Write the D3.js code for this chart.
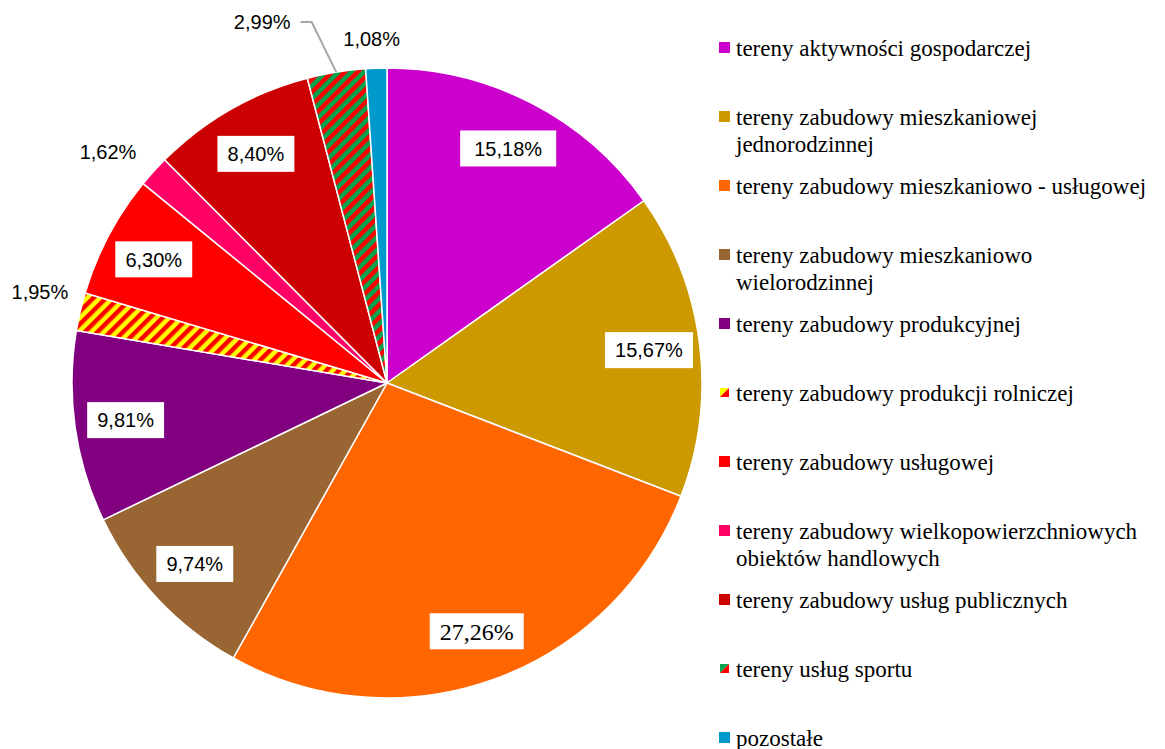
<!DOCTYPE html>
<html><head><meta charset="utf-8">
<script src="https://cdn.jsdelivr.net/npm/d3@7"></script>
<style>
html,body{margin:0;padding:0;background:#fff;}
svg{display:block;}
svg text.lg, svg text.serif{font-family:"Liberation Serif","Times New Roman",serif !important;}
svg text.sans{font-family:"Liberation Sans",Arial,sans-serif;}
</style>
</head><body>
<svg id="chart" width="1165" height="749"></svg>
<script>
// ---- data ----
const categories = [
  ["tereny aktywności gospodarczej"],
  ["tereny zabudowy mieszkaniowej", "jednorodzinnej"],
  ["tereny zabudowy mieszkaniowo - usługowej"],
  ["tereny zabudowy mieszkaniowo", "wielorodzinnej"],
  ["tereny zabudowy produkcyjnej"],
  ["tereny zabudowy produkcji rolniczej"],
  ["tereny zabudowy usługowej"],
  ["tereny zabudowy wielkopowierzchniowych", "obiektów handlowych"],
  ["tereny zabudowy usług publicznych"],
  ["tereny usług sportu"],
  ["pozostałe"]
];
const values = [15.18, 15.67, 27.26, 9.74, 9.81, 1.95, 6.30, 1.62, 8.40, 2.99, 1.08];
const labels = ["15,18%", "15,67%", "27,26%", "9,74%", "9,81%", "1,95%", "6,30%", "1,62%", "8,40%", "2,99%", "1,08%"];

// ---- styling / layout ----
const fills = ["#CC00CC", "#CC9900", "#FF6600", "#996633", "#800080", "url(#pRol)", "#FF0000", "#FF0066", "#CC0000", "url(#pSport)", "#0099CC"];
const labelMode = ["in","in","in","in","in","out","in","out","in","out","out"];
const outRadius = [0,0,0,0,0,359,0,362,0,382,345];
const outAngleOff = [0,0,0,0,0,1.7,0,-2.6,0,-9.8,-0.6];

const svg = d3.select("#chart");
const cx = 387, cy = 383, R = 315;

const defs = svg.append("defs");
function stripes(id, bg, fg) {
  const p = defs.append("pattern").attr("id", id).attr("patternUnits", "userSpaceOnUse")
    .attr("width", 9).attr("height", 9).attr("patternTransform", "rotate(45)");
  p.append("rect").attr("width", 9).attr("height", 9).attr("fill", bg);
  p.append("rect").attr("width", 4.5).attr("height", 9).attr("fill", fg);
}
stripes("pRol", "#FFFF00", "#FF0000");
stripes("pSport", "#00A550", "#FF0000");

const pie = d3.pie().sort(null).value(d => d);
const arcs = pie(values);
const arc = d3.arc().innerRadius(0).outerRadius(R);

const g = svg.append("g").attr("transform", `translate(${cx},${cy})`);
g.selectAll("path.slice").data(arcs).enter().append("path")
  .attr("class", "slice")
  .attr("d", arc)
  .attr("fill", (d, i) => fills[i])
  .attr("stroke", "#fff").attr("stroke-width", 1.5).attr("stroke-linejoin", "round");

const polar = (a, r) => [Math.sin(a) * r, -Math.cos(a) * r];

arcs.forEach((d, i) => {
  const mid = (d.startAngle + d.endAngle) / 2;
  if (labelMode[i] === "in") {
    const [px, py] = polar(mid, 264);
    const x = cx + px, y = cy + py;
    const serif = i === 2;
    const rect = svg.append("rect").attr("fill", "#fff");
    const t = svg.append("text").attr("x", x).attr("y", y).attr("dy", "0.36em")
      .attr("text-anchor", "middle").attr("class", serif ? "serif" : "sans")
      .style("font-size", (serif ? 24 : 20) + "px").attr("fill", "#000").text(labels[i]);
    const bb = t.node().getBBox();
    const padX = i === 0 ? 14 : 10;
    rect.attr("x", x - bb.width / 2 - padX).attr("y", y - 18)
      .attr("width", bb.width + 2 * padX).attr("height", 36);
  } else {
    const a = mid + outAngleOff[i] * Math.PI / 180;
    const [px, py] = polar(a, outRadius[i]);
    const x = cx + px, y = cy + py;
    const t = svg.append("text").attr("x", x).attr("y", y).attr("dy", "0.36em")
      .attr("text-anchor", "middle").attr("class", "sans")
      .style("font-size", "20px").attr("fill", "#000").text(labels[i]);
    if (i === 9) {
      const bb = t.node().getBBox();
      const [ex, ey] = polar(mid, R);
      const x0 = x + bb.width / 2 + 10;
      svg.append("polyline")
        .attr("points", [[x0, y], [x0 + 11, y], [cx + ex, cy + ey]].map(p => p.join(",")).join(" "))
        .attr("fill", "none").attr("stroke", "#A6A6A6").attr("stroke-width", 2);
    }
  }
});

// legend
const legX = 719, legY0 = 48, legStep = 69, lineH = 27;
categories.forEach((lines, i) => {
  const y = legY0 + i * legStep;
  if (i === 5 || i === 9) {
    const c1 = i === 5 ? "#FFFF00" : "#00A550";
    svg.append("polygon").attr("points", `${legX+1},${y-5} ${legX+10},${y-5} ${legX+1},${y+4}`).attr("fill", c1);
    svg.append("polygon").attr("points", `${legX+10},${y-5} ${legX+10},${y+4} ${legX+1},${y+4}`).attr("fill", "#FF0000");
  } else {
    svg.append("rect").attr("x", legX).attr("y", y - 6).attr("width", 11).attr("height", 11).attr("fill", fills[i]);
  }
  lines.forEach((ln, j) => {
    svg.append("text").attr("x", 736).attr("y", y + j * lineH).attr("dy", "0.33em")
      .attr("class", "lg")
      .style("font-size", "23px").attr("fill", "#000").text(ln);
  });
});
</script>
</body></html>
